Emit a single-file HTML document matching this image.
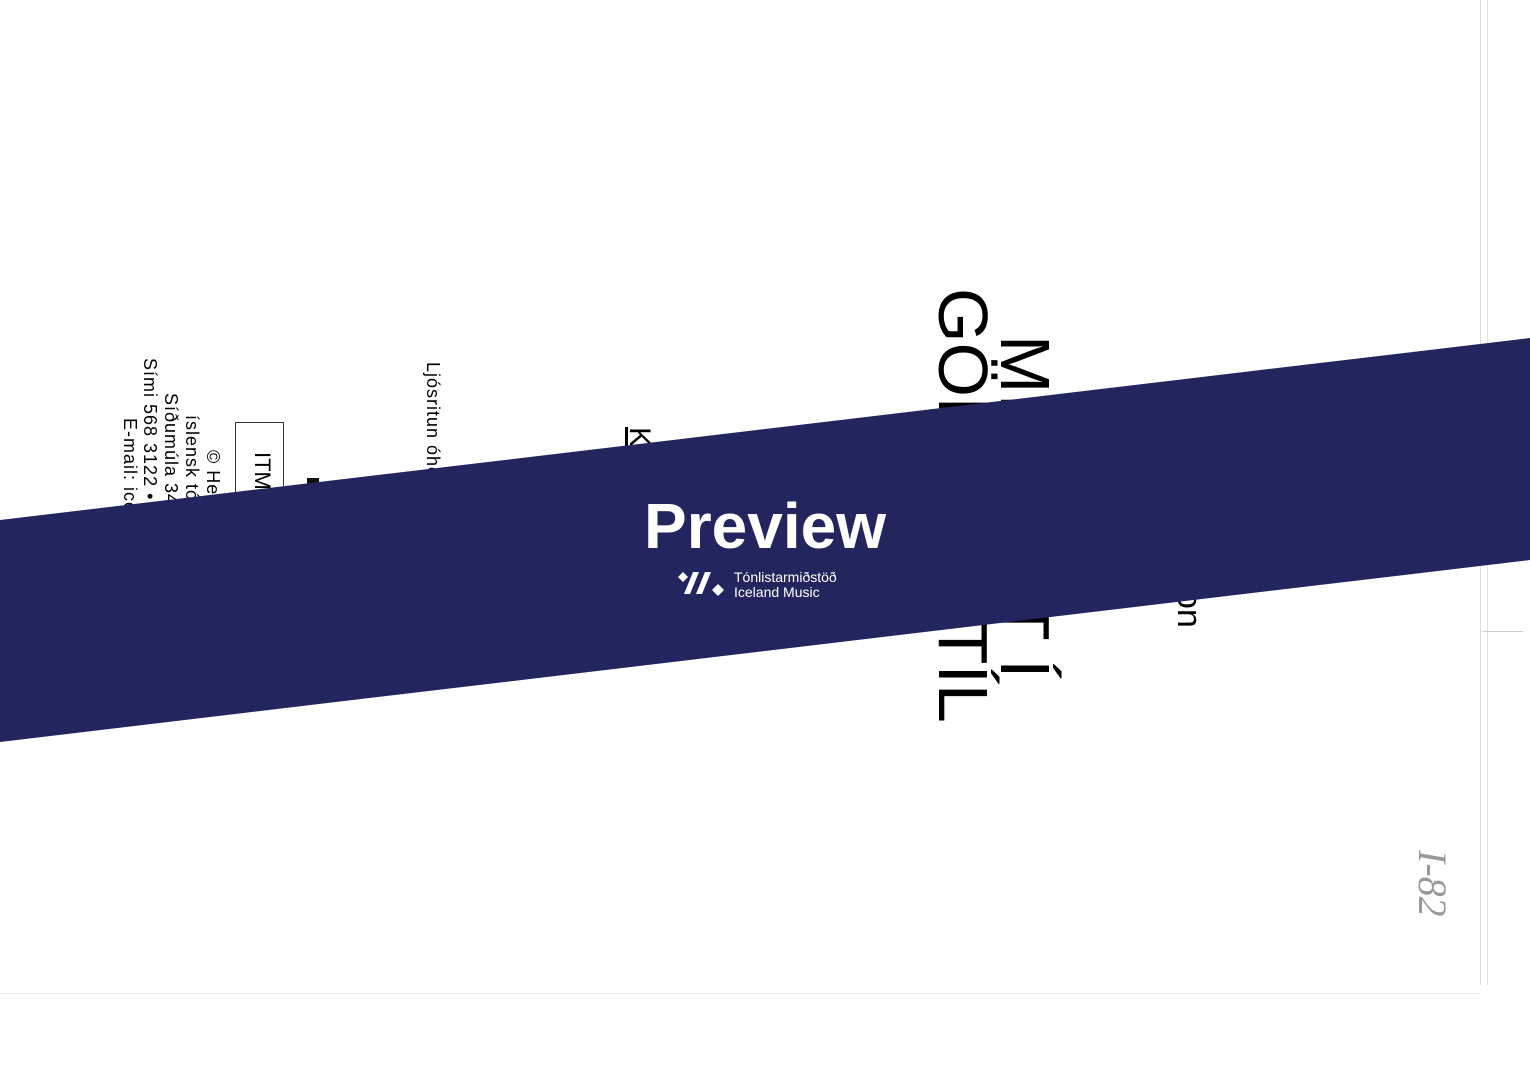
<!DOCTYPE html>
<html><head><meta charset="utf-8"><style>
html,body{margin:0;padding:0}
body{width:1530px;height:1080px;position:relative;overflow:hidden;background:#fff;font-family:"Liberation Sans",sans-serif;color:#000}
.r{position:absolute;transform:rotate(90deg);transform-origin:0 0;white-space:nowrap;line-height:1}
.s{letter-spacing:1px}
</style></head><body>
<div style="position:absolute;left:1480px;top:0;width:1px;height:985px;background:#ddd"></div>
<div style="position:absolute;left:1487px;top:0;width:1px;height:985px;background:#e6e6e6"></div>
<div style="position:absolute;left:0;top:993px;width:1480px;height:1px;background:#eee"></div>
<div style="position:absolute;left:1483px;top:631px;width:40px;height:1px;background:#ccc"></div>

<div class="r" style="left:1060px;top:335px;font-size:70px">MI</div>
<div class="r" style="left:1060px;top:598px;font-size:70px">T Í</div>
<div class="r" style="left:998px;top:288px;font-size:70px">GÖN</div>
<div class="r" style="left:998px;top:575px;font-size:70px">STÍL</div>
<div class="r" style="left:1206px;top:590px;font-size:34px">on</div>
<div class="r" style="left:654px;top:427px;font-size:30px;text-decoration:underline">K</div>
<div class="r s" style="left:442px;top:362px;font-size:18px">Ljósritun óheimil</div>
<div style="position:absolute;left:235px;top:422px;width:49px;height:80px;border:1px solid #333;box-sizing:border-box"></div>
<div class="r" style="left:273px;top:452px;font-size:22px">ITM</div>
<div style="position:absolute;left:307px;top:478px;width:12px;height:30px;background:#111"></div>
<div class="r s" style="left:222px;top:450px;font-size:18px">© Helgi</div>
<div class="r s" style="left:201px;top:415px;font-size:18px">íslensk  tónverk</div>
<div class="r s" style="left:180px;top:393px;font-size:18px">Síðumúla 34  •</div>
<div class="r s" style="left:159px;top:358px;font-size:18px">Sími  568 3122  •</div>
<div class="r s" style="left:139px;top:418px;font-size:18px">E-mail: icemic</div>
<div class="r" style="left:1452px;top:850px;font-size:40px;color:#999;font-family:'Liberation Serif',serif;font-style:italic">I-82</div>

<svg style="position:absolute;left:0;top:0" width="1530" height="1080">
<polygon points="0,520 1530,338 1530,560 0,742" fill="#23265e"/>
<text x="765" y="548" text-anchor="middle" font-family="Liberation Sans, sans-serif" font-size="64" font-weight="bold" fill="#fff">Preview</text>
<g fill="#fff">
<polygon points="683,572 688,577 683,582 678,577"/>
<polygon points="693,572 699,572 690,594 684,594"/>
<polygon points="705,572 711,572 702,594 696,594"/>
<polygon points="718,584 724,590 718,596 712,590"/>
</g>
<text x="734" y="582" font-family="Liberation Sans, sans-serif" font-size="14" fill="#fff">Tónlistarmiðstöð</text>
<text x="734" y="597" font-family="Liberation Sans, sans-serif" font-size="14" fill="#fff">Iceland Music</text>
</svg>
</body></html>
